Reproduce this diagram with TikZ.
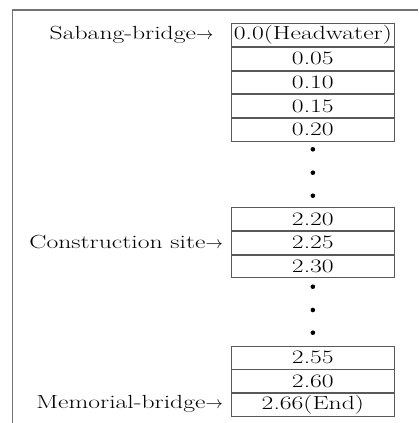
\documentclass[tikz,border=0pt]{standalone}
\usepackage{fontspec}
\setmainfont{lmroman17-regular.otf}[FakeStretch=1.35]
\begin{document}
\begin{tikzpicture}[x=1pt,y=-1pt,
  cell/.style={draw=black!65,line width=0.7pt,minimum width=162.3pt,minimum height=22.9pt,inner sep=0pt,anchor=north,font=\fontsize{19}{19}\selectfont},
  lab/.style={anchor=base east,inner sep=0pt,font=\fontsize{19}{19}\selectfont},
  dotn/.style={circle,fill=black,inner sep=0pt,minimum size=4.6pt},
  frameline/.style={draw=black!55,line width=1.6pt}]
\useasboundingbox (0,0) rectangle (418,423);
\coordinate (ftl) at (12.5,10);
\coordinate (ftr) at (418,10);
\coordinate (fbl) at (12.5,423);
\draw[frameline] (ftr) -- (ftl) -- (fbl);
% group 1
\node[cell] (c1) at (312.85,23.3) {0.0(Headwater)};
\node[cell] (c2) at (c1.south) {0.05};
\node[cell] (c3) at (c2.south) {0.10};
\node[cell] (c4) at (c3.south) {0.15};
\node[cell] (c5) at (c4.south) {0.20};
\node[dotn] (d1) at (312.85,149.3) {};
\node[dotn] (d2) at (312.85,172.7) {};
\node[dotn] (d3) at (312.85,195.7) {};
% group 2
\node[cell] (e1) at (312.85,207.3) {2.20};
\node[cell] (e2) at (e1.south) {2.25};
\node[cell] (e3) at (e2.south) {2.30};
\node[dotn] (d4) at (312.85,286.7) {};
\node[dotn] (d5) at (312.85,310) {};
\node[dotn] (d6) at (312.85,332.7) {};
% group 3
\node[cell] (g1) at (312.85,345.7) {2.55};
\node[cell] (g2) at (g1.south) {2.60};
\node[cell] (g3) at (g2.south) {2.66(End)};
% labels
\node[lab] (l1) at (213.5,39.5) {Sabang-bridge$\rightarrow$};
\node[lab] (l2) at (223,248.3) {Construction site$\rightarrow$};
\node[lab] (l3) at (223,408.3) {Memorial-bridge$\rightarrow$};
\end{tikzpicture}
\end{document}
